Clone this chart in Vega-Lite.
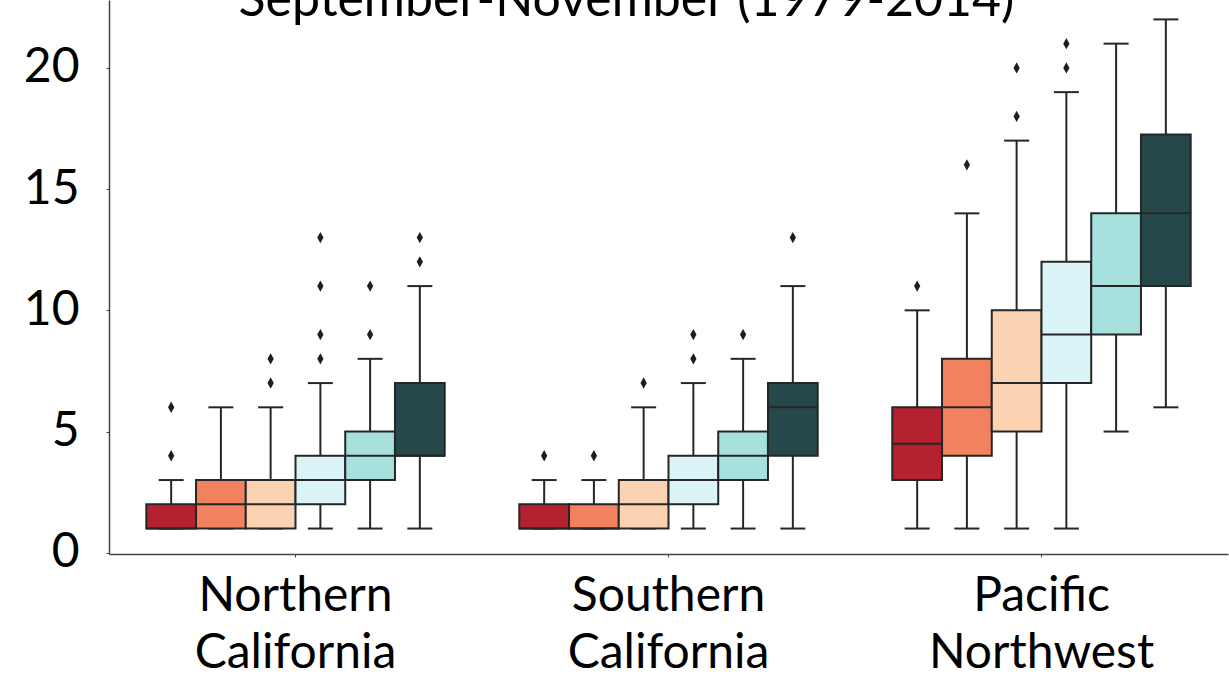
{
  "$schema": "https://vega.github.io/schema/vega-lite/v6.json",
  "width": 1119,
  "height": 554,
  "autosize": {"type": "none"},
  "padding": {"left": 109, "top": 0, "right": 1, "bottom": 124},
  "background": "white",
  "title": {
    "text": "September-November (1979-2014)",
    "font": "Lato",
    "fontSize": 50,
    "fontWeight": "normal",
    "color": "#000000",
    "anchor": "middle",
    "frame": "group",
    "baseline": "alphabetic",
    "offset": 0,
    "dy": 66,
    "dx": -42
  },
  "config": {
    "view": {"stroke": null},
    "axis": {
      "grid": false,
      "domainColor": "#444444",
      "domainWidth": 1.5,
      "tickColor": "#444444",
      "tickSize": 3,
      "labelFont": "Lato",
      "labelFontSize": 48,
      "labelColor": "#000000",
      "labelLimit": 0,
      "title": null
    }
  },
  "datasets": {
    "boxes": [
      {"region": "Northern California", "k": "1", "lo": 1, "q1": 1, "med": 1, "q3": 2, "hi": 3},
      {"region": "Northern California", "k": "2", "lo": 1, "q1": 1, "med": 2, "q3": 3, "hi": 6},
      {"region": "Northern California", "k": "3", "lo": 1, "q1": 1, "med": 2, "q3": 3, "hi": 6},
      {"region": "Northern California", "k": "4", "lo": 1, "q1": 2, "med": 3, "q3": 4, "hi": 7},
      {"region": "Northern California", "k": "5", "lo": 1, "q1": 3, "med": 4, "q3": 5, "hi": 8},
      {"region": "Northern California", "k": "6", "lo": 1, "q1": 4, "med": 4, "q3": 7, "hi": 11},
      {"region": "Southern California", "k": "1", "lo": 1, "q1": 1, "med": 1, "q3": 2, "hi": 3},
      {"region": "Southern California", "k": "2", "lo": 1, "q1": 1, "med": 1, "q3": 2, "hi": 3},
      {"region": "Southern California", "k": "3", "lo": 1, "q1": 1, "med": 2, "q3": 3, "hi": 6},
      {"region": "Southern California", "k": "4", "lo": 1, "q1": 2, "med": 3, "q3": 4, "hi": 7},
      {"region": "Southern California", "k": "5", "lo": 1, "q1": 3, "med": 4, "q3": 5, "hi": 8},
      {"region": "Southern California", "k": "6", "lo": 1, "q1": 4, "med": 6, "q3": 7, "hi": 11},
      {"region": "Pacific Northwest", "k": "1", "lo": 1, "q1": 3, "med": 4.5, "q3": 6, "hi": 10},
      {"region": "Pacific Northwest", "k": "2", "lo": 1, "q1": 4, "med": 6, "q3": 8, "hi": 14},
      {"region": "Pacific Northwest", "k": "3", "lo": 1, "q1": 5, "med": 7, "q3": 10, "hi": 17},
      {"region": "Pacific Northwest", "k": "4", "lo": 1, "q1": 7, "med": 9, "q3": 12, "hi": 19},
      {"region": "Pacific Northwest", "k": "5", "lo": 5, "q1": 9, "med": 11, "q3": 14, "hi": 21},
      {"region": "Pacific Northwest", "k": "6", "lo": 6, "q1": 11, "med": 14, "q3": 17.25, "hi": 22}
    ],
    "outliers": [
      {"region": "Northern California", "k": "1", "v": 4},
      {"region": "Northern California", "k": "1", "v": 6},
      {"region": "Northern California", "k": "3", "v": 7},
      {"region": "Northern California", "k": "3", "v": 8},
      {"region": "Northern California", "k": "4", "v": 8},
      {"region": "Northern California", "k": "4", "v": 9},
      {"region": "Northern California", "k": "4", "v": 11},
      {"region": "Northern California", "k": "4", "v": 13},
      {"region": "Northern California", "k": "5", "v": 9},
      {"region": "Northern California", "k": "5", "v": 11},
      {"region": "Northern California", "k": "6", "v": 12},
      {"region": "Northern California", "k": "6", "v": 13},
      {"region": "Southern California", "k": "1", "v": 4},
      {"region": "Southern California", "k": "2", "v": 4},
      {"region": "Southern California", "k": "3", "v": 7},
      {"region": "Southern California", "k": "4", "v": 8},
      {"region": "Southern California", "k": "4", "v": 9},
      {"region": "Southern California", "k": "5", "v": 9},
      {"region": "Southern California", "k": "6", "v": 13},
      {"region": "Pacific Northwest", "k": "1", "v": 11},
      {"region": "Pacific Northwest", "k": "2", "v": 16},
      {"region": "Pacific Northwest", "k": "3", "v": 18},
      {"region": "Pacific Northwest", "k": "3", "v": 20},
      {"region": "Pacific Northwest", "k": "4", "v": 20},
      {"region": "Pacific Northwest", "k": "4", "v": 21}
    ]
  },
  "encoding": {
    "x": {
      "field": "region",
      "type": "nominal",
      "sort": ["Northern California", "Southern California", "Pacific Northwest"],
      "scale": {"paddingInner": 0.2, "paddingOuter": 0.1},
      "axis": {
        "labelAngle": 0,
        "labelExpr": "split(datum.label, ' ')",
        "labelLineHeight": 57,
        "labelPadding": 15
      }
    },
    "xOffset": {"field": "k", "type": "nominal", "scale": {"paddingInner": 0, "paddingOuter": 0}}
  },
  "layer": [
    {
      "data": {"name": "boxes"},
      "mark": {"type": "rule", "color": "#262626", "strokeWidth": 2},
      "encoding": {
        "y": {"field": "lo", "type": "quantitative", "scale": {"domain": [-0.05, 22.8], "nice": false, "zero": false},
              "axis": {"values": [0, 5, 10, 15, 20], "labelPadding": 27}},
        "y2": {"field": "q1"}
      }
    },
    {
      "data": {"name": "boxes"},
      "mark": {"type": "rule", "color": "#262626", "strokeWidth": 2},
      "encoding": {
        "y": {"field": "q3", "type": "quantitative"},
        "y2": {"field": "hi"}
      }
    },
    {
      "data": {"name": "boxes"},
      "mark": {"type": "tick", "color": "#262626", "size": 25, "thickness": 2, "opacity": 1},
      "encoding": {"y": {"field": "lo", "type": "quantitative"}}
    },
    {
      "data": {"name": "boxes"},
      "mark": {"type": "tick", "color": "#262626", "size": 25, "thickness": 2, "opacity": 1},
      "encoding": {"y": {"field": "hi", "type": "quantitative"}}
    },
    {
      "data": {"name": "boxes"},
      "mark": {"type": "bar", "stroke": "#262626", "strokeWidth": 2, "opacity": 1},
      "encoding": {
        "y": {"field": "q1", "type": "quantitative"},
        "y2": {"field": "q3"},
        "color": {
          "field": "k",
          "type": "nominal",
          "scale": {"domain": ["1", "2", "3", "4", "5", "6"], "range": ["#b5222f", "#f2825f", "#fbd3b3", "#daf4f7", "#a6e1de", "#27484a"]},
          "legend": null
        }
      }
    },
    {
      "data": {"name": "boxes"},
      "mark": {"type": "tick", "color": "#262626", "size": 50, "thickness": 2, "opacity": 1},
      "encoding": {"y": {"field": "med", "type": "quantitative"}}
    },
    {
      "data": {"name": "outliers"},
      "mark": {"type": "point", "shape": "M0,-1L0.55,0L0,1L-0.55,0Z", "filled": true, "color": "#1e1e1e", "size": 130, "opacity": 1},
      "encoding": {"y": {"field": "v", "type": "quantitative"}}
    }
  ]
}
